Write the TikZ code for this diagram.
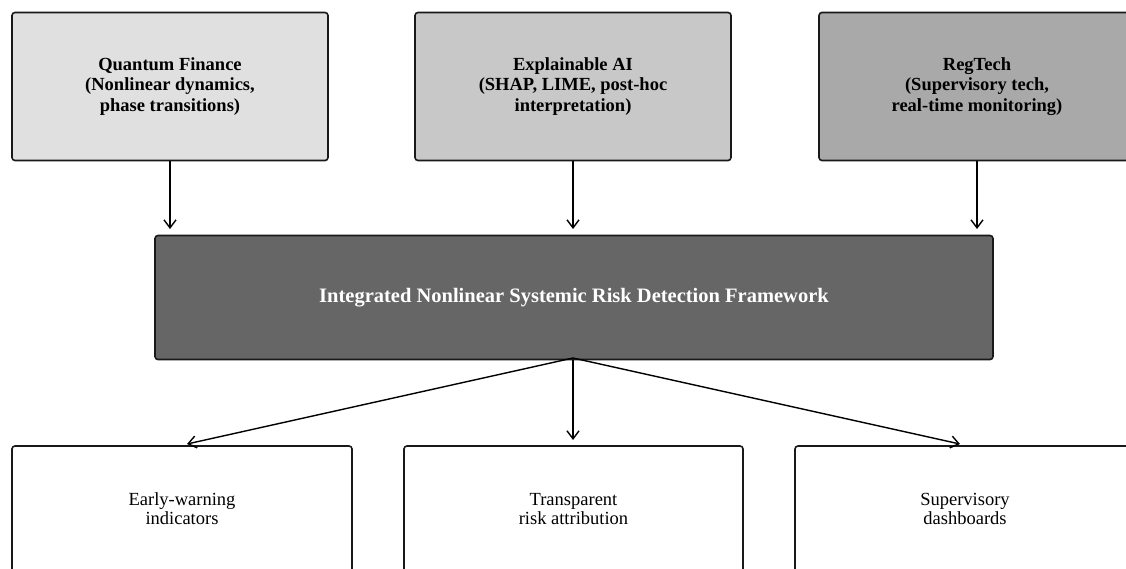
\documentclass[tikz,border=0pt]{standalone}
\usepackage{fontspec}
\setmainfont{Liberation Serif}
\usetikzlibrary{arrows.meta}
\definecolor{cA}{HTML}{E0E0E0}
\definecolor{cB}{HTML}{C8C8C8}
\definecolor{cC}{HTML}{A9A9A9}
\definecolor{cM}{HTML}{666666}
\begin{document}
\begin{tikzpicture}[x=1pt,y=-1pt,
  box/.style={draw=black!90, line width=1.6pt, rounded corners=3pt, rectangle, align=center,
    font=\fontsize{18.5}{20.3}\selectfont, inner sep=0pt},
  topbox/.style={box, minimum width=316pt, minimum height=148pt, font=\fontsize{18.5}{20.8}\selectfont\bfseries},
  botbox/.style={box, fill=white, minimum width=340pt, minimum height=126pt, font=\fontsize{18.5}{18.8}\selectfont},
  arr/.style={line width=1.4pt, -{Straight Barb[length=8pt,width=12pt,line width=1.4pt]}}]
\useasboundingbox (0,0) rectangle (1126,568);
\clip (0,0) rectangle (1126,568);
\fill[white] (0,0) rectangle (1126,568);
\node[topbox, fill=cA] (q) at (170,86.5) {Quantum Finance\\(Nonlinear dynamics,\\phase transitions)};
\node[topbox, fill=cB] (x) at (573,86.5) {Explainable AI\\(SHAP, LIME, post-hoc\\interpretation)};
\node[topbox, fill=cC] (r) at (977,86.5) {RegTech\\(Supervisory tech,\\real-time monitoring)};
\node[box, fill=cM, minimum width=838pt, minimum height=124pt, text=white, font=\fontsize{20.5}{22}\selectfont\bfseries] (m) at (574,297.5) {Integrated Nonlinear Systemic Risk Detection Framework};
\node[botbox] (e) at (182,509) {Early-warning\\indicators};
\node[botbox, minimum width=339pt] (t) at (573.5,509) {Transparent\\risk attribution};
\node[botbox] (s) at (965,509) {Supervisory\\dashboards};
\coordinate (ms) at (573,358);
\coordinate (mn1) at (170,229);
\coordinate (mn2) at (573,229);
\coordinate (mn3) at (977,229);
\coordinate (te) at (187,444);
\coordinate (tt) at (573,440);
\coordinate (ts) at (960,444);
\draw[arr] (q.south) -- (mn1);
\draw[arr] (x.south) -- (mn2);
\draw[arr] (r.south) -- (mn3);
\draw[arr] (ms) -- (te);
\draw[arr] (m.south -| tt) -- (tt);
\draw[arr] (ms) -- (ts);
\end{tikzpicture}
\end{document}
